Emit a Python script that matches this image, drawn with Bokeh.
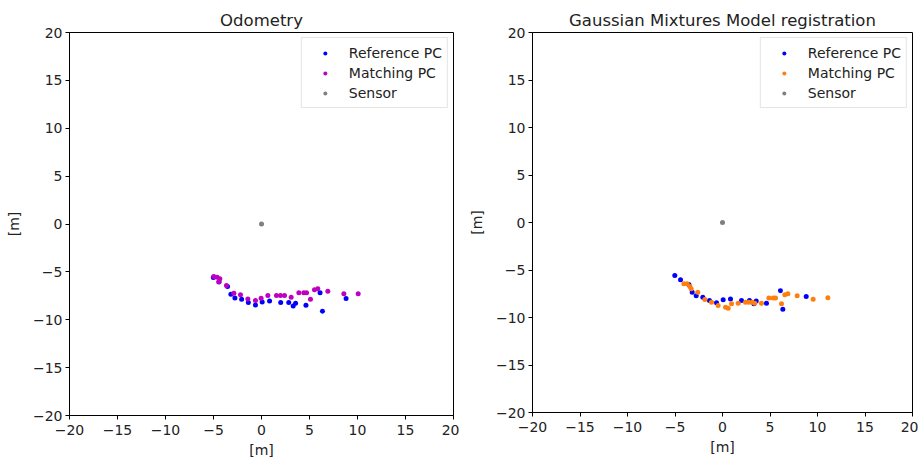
from bokeh.plotting import figure
from bokeh.layouts import row
from bokeh.models import Range1d, FixedTicker, Legend, LegendItem
from bokeh.embed import file_html
from bokeh.resources import INLINE

# Reference point cloud (same in both panels)
ref_x = [-5.02, -4.42, -3.54, -3.19, -2.77, -2.07, -1.37, -0.63, 0.07, 0.84,
         2.0, 2.84, 3.3, 3.55, 4.63, 6.1, 6.35, 8.81]
ref_y = [-5.58, -6.03, -6.53, -7.33, -7.72, -7.86, -8.21, -8.46, -8.14, -8.04,
         -8.21, -8.21, -8.56, -8.27, -8.49, -7.19, -9.12, -7.79]

# Matching point cloud, odometry
odo_x = [-4.97, -4.62, -4.34, -4.45, -3.65, -2.88, -2.19, -1.42, -0.63, -0.04,
         0.66, 1.56, 1.98, 2.4, 3.09, 3.89, 4.41, 4.69, 5.1, 5.52, 5.87, 6.91,
         8.58, 10.07]
odo_y = [-5.48, -5.55, -5.72, -6.07, -6.42, -7.22, -7.4, -7.82, -7.99, -7.75,
         -7.47, -7.47, -7.47, -7.47, -7.64, -7.19, -7.19, -7.19, -7.85, -6.87,
         -6.77, -7.02, -7.29, -7.29]

# Matching point cloud, GMM registration
gmm_x = [-4.07, -3.72, -3.44, -3.3, -2.6, -1.86, -1.16, -0.46, 0.32, 0.6,
         0.95, 1.65, 2.42, 2.77, 3.12, 3.4, 4.1, 4.88, 5.33, 5.58, 6.21, 6.56,
         6.88, 7.86, 9.54, 11.09]
gmm_y = [-6.46, -6.46, -6.74, -6.98, -7.33, -8.1, -8.39, -8.74, -8.91, -9.02,
         -8.56, -8.49, -8.39, -8.39, -8.39, -8.49, -8.49, -7.96, -7.96, -7.96,
         -8.56, -7.61, -7.51, -7.72, -8.07, -7.93]

sensor_x = [0.0]
sensor_y = [0.0]

ticks = [-20, -15, -10, -5, 0, 5, 10, 15, 20]
tick_labels = {t: (("\u2212" + str(-t)) if t < 0 else str(t)) for t in ticks}

FONT = "DejaVu Sans"
TXT = "#222222"


def make_panel(title, mx, my, mcolor, left, fw, fh, bottom):
    p = figure(output_backend="svg", toolbar_location=None,
               frame_width=fw, frame_height=fh,
               min_border_left=left, min_border_right=6,
               min_border_top=32, min_border_bottom=bottom,
               x_range=Range1d(-20, 20), y_range=Range1d(-20, 20),
               title=title)
    p.title.align = "center"
    p.title.text_font = FONT
    p.title.text_font_size = "16.5px"
    p.title.text_font_style = "normal"
    p.title.text_color = TXT
    p.title.offset = 0
    p.title.standoff = 6
    p.xgrid.visible = False
    p.ygrid.visible = False
    p.outline_line_color = "black"
    p.outline_line_alpha = 1.0
    p.outline_line_width = 1
    for ax in (p.xaxis[0], p.yaxis[0]):
        ax.ticker = FixedTicker(ticks=ticks)
        ax.major_label_overrides = tick_labels
        ax.minor_tick_line_color = None
        ax.major_tick_in = 0
        ax.major_tick_out = 4
        ax.major_tick_line_color = "black"
        ax.axis_line_color = "black"
        ax.major_label_text_font = FONT
        ax.major_label_text_font_size = "14px"
        ax.major_label_text_color = TXT
        ax.axis_label = "[m]"
        ax.axis_label_text_font = FONT
        ax.axis_label_text_font_size = "14px"
        ax.axis_label_text_font_style = "normal"
        ax.axis_label_text_color = TXT
    p.yaxis[0].major_label_standoff = 3
    p.yaxis[0].axis_label_standoff = 8
    p.xaxis[0].major_label_standoff = 5
    p.xaxis[0].axis_label_standoff = 4

    r1 = p.scatter(ref_x, ref_y, size=5, color="#0000ff", line_width=0)
    r2 = p.scatter(mx, my, size=5, color=mcolor, line_width=0)
    r3 = p.scatter(sensor_x, sensor_y, size=5, color="#808080", line_width=0)
    legend = Legend(items=[LegendItem(label="Reference PC", renderers=[r1]),
                           LegendItem(label="Matching PC", renderers=[r2]),
                           LegendItem(label="Sensor", renderers=[r3])],
                    location="top_right")
    legend.label_text_font = FONT
    legend.label_text_font_size = "14px"
    legend.label_text_color = TXT
    legend.border_line_color = "#cccccc"
    legend.border_line_width = 1
    legend.background_fill_alpha = 0.8
    legend.margin = 5
    legend.padding = 5
    legend.glyph_width = 36
    legend.glyph_height = 10
    legend.label_height = 19
    legend.label_standoff = 6
    legend.spacing = 1
    p.add_layout(legend)
    return p


p1 = make_panel("Odometry", odo_x, odo_y, "#bf00bf", 69, 384, 383, 44)
p2 = make_panel("Gaussian Mixtures Model registration", gmm_x, gmm_y, "#ff7f0e", 73, 380, 380, 47)

layout = row(p1, p2)
open("out.html", "w").write(file_html(layout, INLINE))
